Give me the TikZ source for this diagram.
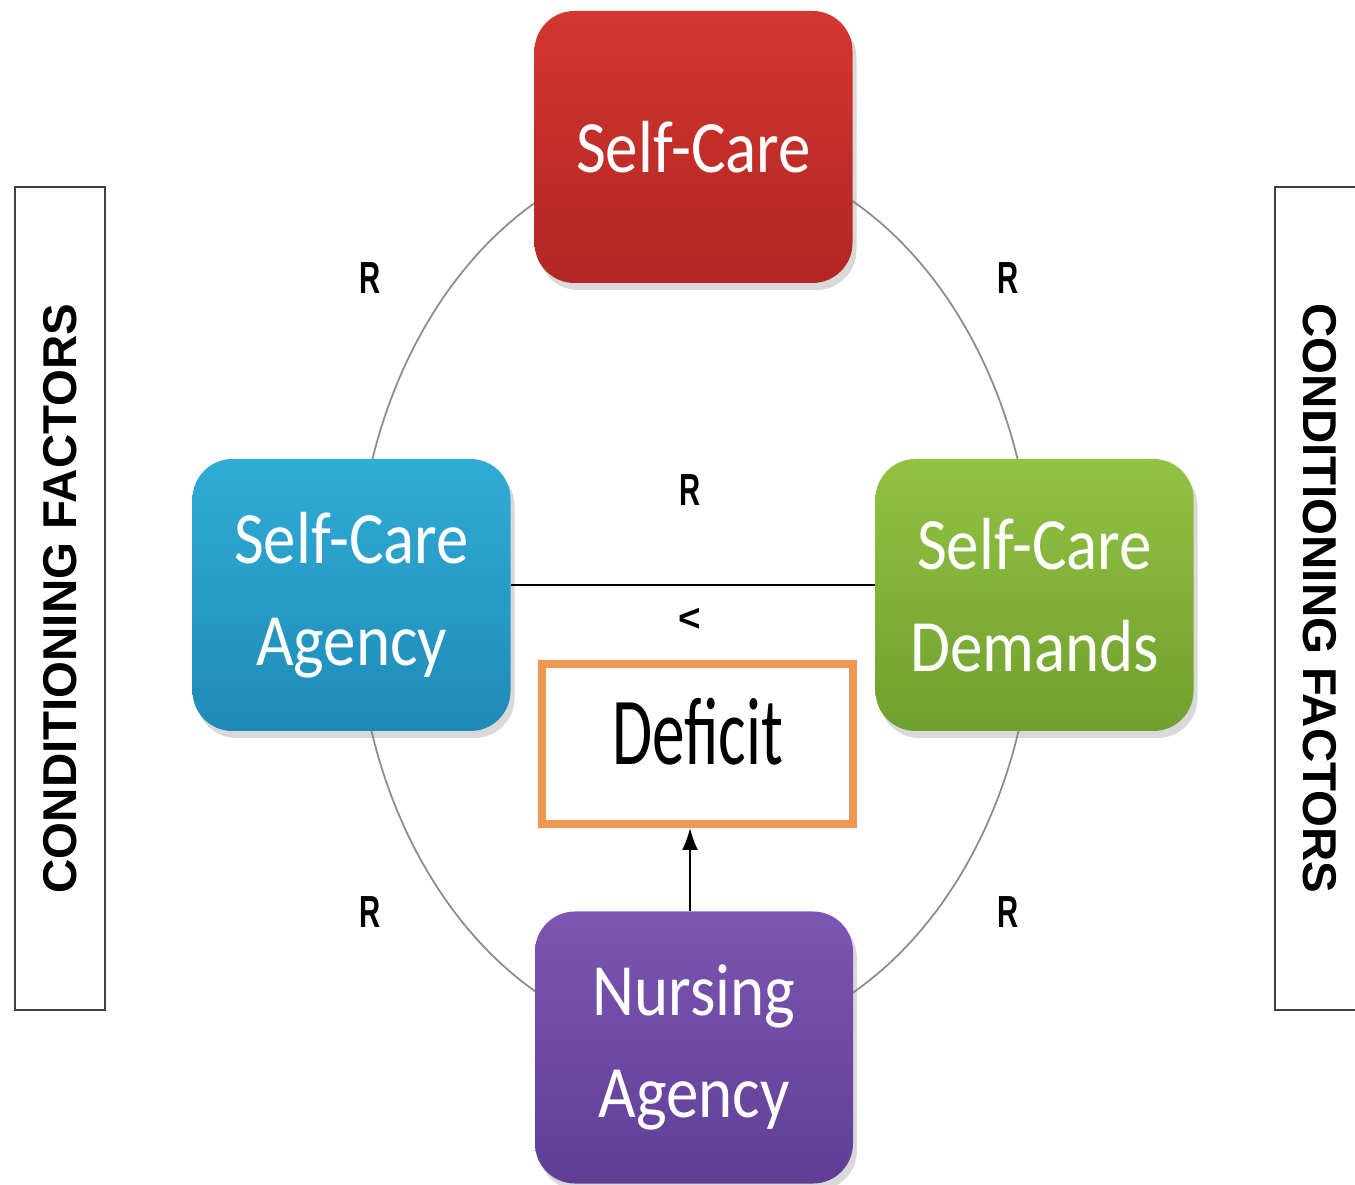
\documentclass[tikz,border=0pt]{standalone}
\usepackage{fontspec}
\setmainfont{Carlito}
\newfontfamily\boxfont{Carlito}[FakeStretch=0.88]
\newfontfamily\deffont{Carlito}[FakeStretch=0.68]
\newfontfamily\rfont{Liberation Sans}[FakeStretch=0.65]
\newfontfamily\cffont{Liberation Sans}
\usepackage{tikz}
\usetikzlibrary{arrows,arrows.meta,%
                shapes,positioning,shadows}
\definecolor{careRed}{RGB}{212,54,48}
\definecolor{careRedD}{RGB}{178,38,35}
\definecolor{careBlue}{RGB}{48,172,214}
\definecolor{careBlueD}{RGB}{30,138,183}
\definecolor{careGreen}{RGB}{146,194,66}
\definecolor{careGreenD}{RGB}{112,160,46}
\definecolor{careViolet}{RGB}{124,86,178}
\definecolor{careVioletD}{RGB}{96,62,150}
\definecolor{deficitOrange}{RGB}{238,152,82}

\begin{document}
\begin{tikzpicture}[node distance   = 2 cm]
  \useasboundingbox (0,0) rectangle (13.55,11.84);
  \tikzset{BoxStyle/.style   = {shape          = rectangle,
                                rounded corners= 0.4cm,
                                text           = white,
                                align          = center,
                                inner sep      = 0pt,
                                minimum width  = 3.18cm,
                                minimum height = 2.72cm,
                                font           = \boxfont\fontsize{21}{29}\selectfont,
                                drop shadow    = {shadow xshift=0.4mm,
                                                  shadow yshift=-0.7mm,
                                                  opacity=0.3}}}
  \tikzset{FrameStyle/.style = {draw           = black!75,
                                line width     = 0.6pt,
                                minimum width  = 8.23cm,
                                minimum height = 0.90cm,
                                font           = \cffont\bfseries\fontsize{13.5}{16}\selectfont}}
  \tikzset{LabelStyle/.style = {font           = \rfont\bfseries\fontsize{12.8}{15}\selectfont,
                                text           = black}}
  \tikzset{EdgeStyle/.style  = {line width     = 0.6pt}}
     \coordinate (O) at (6.95,5.87);
     % relation ring behind the boxes
     \draw[black!45, line width=0.5pt] (O) ellipse (3.39 and 4.47);

     \node[BoxStyle, top color=careRed, bottom color=careRedD](SC) at (6.935,10.37){Self-Care};
     \node[BoxStyle, top color=careBlue, bottom color=careBlueD](SCA) at (3.515,5.89){Self-Care\\Agency};
     \node[BoxStyle, top color=careGreen, bottom color=careGreenD](SCD) at (10.345,5.89){Self-Care\\Demands};
     \node[BoxStyle, top color=careViolet, bottom color=careVioletD](NA) at (6.94,1.365){Nursing\\Agency};
     \node[draw=deficitOrange, line width=0.08cm, fill=white,
           minimum width=3.11cm, minimum height=1.60cm, text depth=0.26cm,
           font=\deffont\fontsize{27.3}{32}\selectfont](DEF) at (6.975,4.40){Deficit};

     \node[FrameStyle, rotate=90](CFL) at (0.60,5.855){CONDITIONING FACTORS};
     \node[FrameStyle, rotate=-90](CFR) at (13.20,5.855){CONDITIONING FACTORS};

     \node[LabelStyle](R1) at (3.70,9.06){R};
     \node[LabelStyle](R2) at (10.08,9.06){R};
     \node[LabelStyle](R3) at (6.90,6.94){R};
     \node[LabelStyle](R4) at (3.70,2.72){R};
     \node[LabelStyle](R5) at (10.08,2.72){R};
     \node[LabelStyle, font=\cffont\bfseries\fontsize{11}{13}\selectfont](LT) at (6.90,5.64){<};

     \draw[EdgeStyle]([yshift=1mm]SCA.east) -- ([yshift=1mm]SCD.west);
     \draw[EdgeStyle,-{Latex[length=2.2mm,width=1.6mm]}]([xshift=-0.4mm]NA.north) -- ([xshift=-0.4mm]NA.north |- DEF.south);
  \end{tikzpicture}
\end{document}
